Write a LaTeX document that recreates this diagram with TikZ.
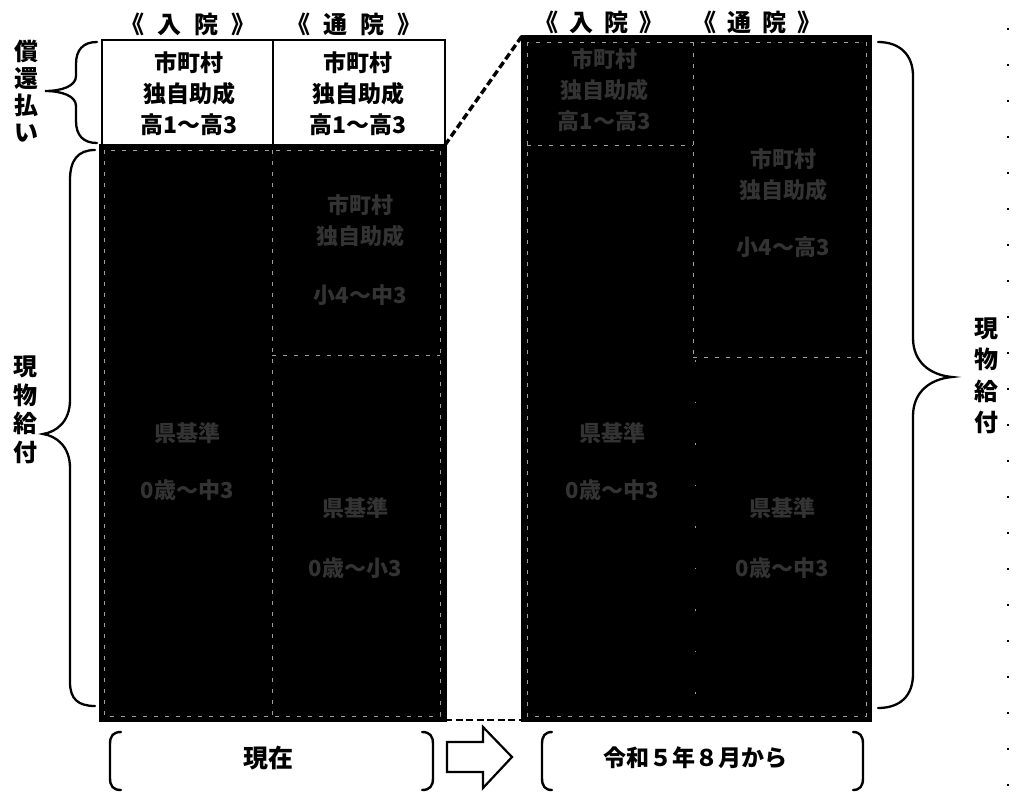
\documentclass[tikz,border=0pt]{standalone}
\usepackage{fontspec}
\setmainfont{Noto Sans CJK JP}
\definecolor{ghost}{gray}{0.20}
\definecolor{faintline}{gray}{0.62}
\begin{document}
\begin{tikzpicture}[x=1pt,y=-1pt,
  hdr/.style={font=\bfseries\fontsize{24}{24}\selectfont, inner sep=0},
  side/.style={font=\bfseries\fontsize{24}{27}\selectfont, align=center, inner sep=0},
  boxtxt/.style={font=\bfseries\fontsize{23}{31}\selectfont, align=center, inner sep=0},
  ghosttxt/.style={font=\bfseries\fontsize{22}{31}\selectfont, align=center, inner sep=0, text=ghost},
  bottxt/.style={font=\bfseries\fontsize{23}{23}\selectfont, inner sep=0},
  darkarea/.style={fill=black, draw=black, line width=3pt},
  innerline/.style={draw=faintline, line width=0.8pt, dash pattern=on 4pt off 7pt},
  bracepath/.style={draw=black, line width=2.3pt, line cap=round},
  bracketpath/.style={draw=black, line width=2.4pt, line cap=round},
  linkline/.style={draw=black, line width=3.4pt, dash pattern=on 7pt off 3.5pt}]
\useasboundingbox (0,0) rectangle (1017,798);

% ---------- named corners ----------
\coordinate (Lwnw) at (102,40);
\coordinate (Lwse) at (445,145);
\coordinate (Lbnw) at (100,145);
\coordinate (Lbse) at (445,720);
\coordinate (Lbne) at (445,145);
\coordinate (Rnw) at (522,36);
\coordinate (Rse) at (870,720);
\coordinate (Rsw) at (522,720);

% ---------- headers ----------
\node[hdr] (h1) at (188,24) {《\hspace{0.55em}入\hspace{0.55em}院\hspace{0.55em}》};
\node[hdr] (h2) at (354,24) {《\hspace{0.55em}通\hspace{0.55em}院\hspace{0.55em}》};
\node[hdr] (h3) at (599,22) {《\hspace{0.45em}入\hspace{0.45em}院\hspace{0.45em}》};
\node[hdr] (h4) at (757,22) {《\hspace{0.45em}通\hspace{0.45em}院\hspace{0.45em}》};

% ---------- left: white top boxes ----------
\draw[line width=2.6pt] (Lwnw) rectangle (Lwse);
\draw[line width=1.4pt] (273,40) -- (273,145);
\node[boxtxt] (lt1) at (189,94) {市町村\\独自助成\\高1～高3};
\node[boxtxt] (lt2) at (358,94) {市町村\\独自助成\\高1～高3};

% ---------- left: dark area ----------
\path[darkarea] (Lbnw) rectangle (Lbse);
\draw[innerline] (104,150) rectangle (440,716);
\draw[innerline] (272,150) -- (272,716);
\draw[innerline] (272,355) -- (440,355);
\node[ghosttxt] (l3) at (360,221) {市町村\\独自助成};
\node[ghosttxt] (l4) at (360,295) {小4～中3};
\node[ghosttxt] (l5) at (187,433) {県基準};
\node[ghosttxt] (l6) at (187,490) {0歳～中3};
\node[ghosttxt] (l7) at (355,508) {県基準};
\node[ghosttxt] (l8) at (355,568) {0歳～小3};

% ---------- right: dark area ----------
\path[darkarea] (Rnw) rectangle (Rse);
\draw[innerline] (527,42) rectangle (866,716);
\draw[innerline] (527,145) -- (693,145);
\draw[innerline] (693,42) -- (693,357);
\draw[innerline] (693,357) -- (866,357);
\draw[draw=faintline, line width=0.8pt, dash pattern=on 1.5pt off 40pt] (695,360) -- (695,716);
\node[ghosttxt] (r1) at (604,90) {市町村\\独自助成\\高1～高3};
\node[ghosttxt] (r2) at (783,175) {市町村\\独自助成};
\node[ghosttxt] (r3) at (783,247) {小4～高3};
\node[ghosttxt] (r4) at (612,433) {県基準};
\node[ghosttxt] (r5) at (612,490) {0歳～中3};
\node[ghosttxt] (r6) at (782,508) {県基準};
\node[ghosttxt] (r7) at (782,568) {0歳～中3};

% ---------- dashed links ----------
\draw[linkline] (Lbne) -- (Rnw);
\draw[linkline, line width=2.4pt] (Lbse) -- (Rsw);

% ---------- braces ----------
\draw[bracepath] (97,42) .. controls (83,42) and (76,50) .. (76,64) -- (76,76)
  .. controls (76,86) and (62,91) .. (45,91)
  .. controls (62,91) and (76,96) .. (76,106) -- (76,121)
  .. controls (76,135) and (83,143) .. (97,143);
\node[side] (s1) at (26,91) {償\\還\\払\\い};

\draw[bracepath] (95,150) .. controls (78,150) and (70,160) .. (70,180) -- (70,400)
  .. controls (70,422) and (56,432) .. (43,434)
  .. controls (56,436) and (70,446) .. (70,468) -- (70,682)
  .. controls (70,699) and (78,706) .. (95,706);
\node[side, font=\bfseries\fontsize{24}{28.5}\selectfont] (s2) at (25,410) {現\\物\\給\\付};

\draw[bracepath] (878,42) .. controls (900,42) and (913,55) .. (913,76) -- (913,338)
  .. controls (913,362) and (930,375) .. (952,377)
  .. controls (930,379) and (913,392) .. (913,416) -- (913,674)
  .. controls (913,696) and (900,708) .. (878,708);
\node[side, font=\bfseries\fontsize{24}{31.5}\selectfont] (s3) at (986,376) {現\\物\\給\\付};

% ---------- bottom brackets & arrow ----------
\draw[bracketpath] (121,732) .. controls (113,732) and (110,736) .. (110,744) -- (110,778)
  .. controls (110,786) and (113,790) .. (121,790);
\draw[bracketpath] (422,732) .. controls (430,732) and (433,736) .. (433,744) -- (433,778)
  .. controls (433,786) and (430,790) .. (422,790);
\node[bottxt, font=\bfseries\fontsize{25}{25}\selectfont] (now) at (268,758) {現在};

\draw[line width=2.2pt, line join=miter] (447,742) -- (483,742) -- (483,727) -- (512,757)
  -- (483,788) -- (483,772) -- (447,772) -- cycle;

\draw[bracketpath] (552,732) .. controls (545,732) and (542,736) .. (542,744) -- (542,778)
  .. controls (542,786) and (545,790) .. (552,790);
\draw[bracketpath] (853,732) .. controls (860,732) and (863,736) .. (863,744) -- (863,778)
  .. controls (863,786) and (860,790) .. (853,790);
\node[bottxt] (from) at (695,758) {令和５年８月から};

% ---------- right-edge dotted rule ----------
\draw[line width=2pt, dash pattern=on 2pt off 34pt] (1008,28) -- (1008,798);
\end{tikzpicture}
\end{document}
